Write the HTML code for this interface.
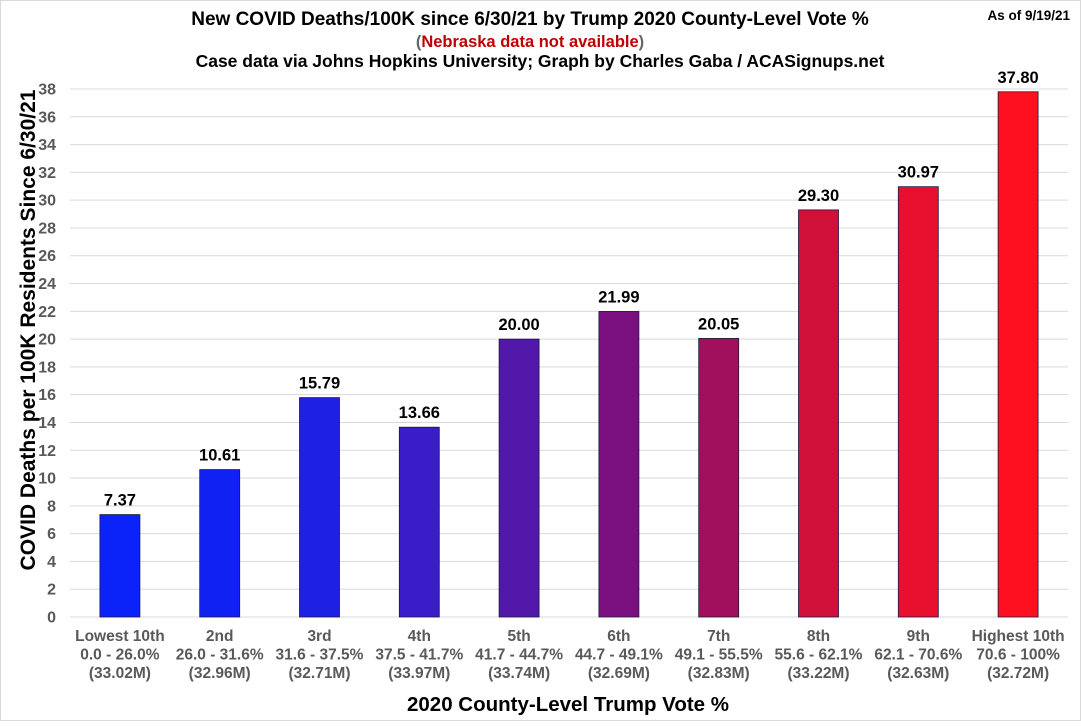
<!DOCTYPE html>
<html><head><meta charset="utf-8"><style>
body{margin:0;background:#fff;width:1081px;height:721px;overflow:hidden;font-family:"Liberation Sans",Arial,sans-serif}
</style></head><body>
<svg id="chart" width="1081" height="721" xmlns="http://www.w3.org/2000/svg" font-family="Liberation Sans, Arial, sans-serif">
<rect x="0.5" y="0.5" width="1080" height="720" fill="#fff" stroke="#d9d9d9"/>
<text x="530" y="25" text-anchor="middle" font-size="19" font-weight="bold">New COVID Deaths/100K since 6/30/21 by Trump 2020 County-Level Vote %</text>
<text x="530" y="47" text-anchor="middle" font-size="16.5" font-weight="bold"><tspan fill="#666">(</tspan><tspan fill="#c00000">Nebraska data not available</tspan><tspan fill="#666">)</tspan></text>
<text x="540" y="67" text-anchor="middle" font-size="17.5" font-weight="bold">Case data via Johns Hopkins University; Graph by Charles Gaba / ACASignups.net</text>
<text x="1070" y="20" text-anchor="end" font-size="13.5" font-weight="bold">As of 9/19/21</text>
<text transform="translate(35,330) rotate(-90)" text-anchor="middle" font-size="21" font-weight="bold">COVID Deaths per 100K Residents Since 6/30/21</text>
<text x="568" y="711" text-anchor="middle" font-size="20.5" font-weight="bold">2020 County-Level Trump Vote %</text>
<g id="grid"></g><g id="bars"></g><g id="labels"></g>
</svg>
<script>
const categories=["Lowest 10th","2nd","3rd","4th","5th","6th","7th","8th","9th","Highest 10th"];
const ranges=["0.0 - 26.0%","26.0 - 31.6%","31.6 - 37.5%","37.5 - 41.7%","41.7 - 44.7%","44.7 - 49.1%","49.1 - 55.5%","55.6 - 62.1%","62.1 - 70.6%","70.6 - 100%"];
const pops=["(33.02M)","(32.96M)","(32.71M)","(33.97M)","(33.74M)","(32.69M)","(32.83M)","(33.22M)","(32.63M)","(32.72M)"];
const values=[7.37,10.61,15.79,13.66,20.00,21.99,20.05,29.30,30.97,37.80];
const colors=["#0b22f8","#1022f2","#1d22e2","#3a1cc8","#5218aa","#7a1080","#a0105c","#cf1038","#e8102e","#ff1020"];
const yTicks=[0,2,4,6,8,10,12,14,16,18,20,22,24,26,28,30,32,34,36,38];
const NS="http://www.w3.org/2000/svg";
const x0=70,x1=1068,y0=617,yTop=89,yMax=38;
const step=(x1-x0)/categories.length;
const yS=v=>y0-(y0-yTop)*v/yMax;
const xC=i=>x0+step*(i+0.5);
function mk(t,a,p){const e=document.createElementNS(NS,t);for(const k in a)e.setAttribute(k,a[k]);p.appendChild(e);return e;}
const grid=document.getElementById('grid'),bars=document.getElementById('bars'),labels=document.getElementById('labels');
yTicks.forEach(v=>{
 const l=mk('line',{x1:x0,x2:x1,y1:yS(v),y2:yS(v),stroke:'#d9d9d9','stroke-width':1},grid);
 
 
 const t=mk('text',{x:56,y:yS(v)+5.5,'text-anchor':'end','font-size':16,'font-weight':'bold',fill:'#595959'},grid);
 t.textContent=v;
 
 
});
values.forEach((v,i)=>{
 const w=40;
 const r=mk('rect',{x:xC(i)-w/2,y:yS(v),width:w,height:y0-yS(v),fill:colors[i],stroke:'#1a1a40','stroke-width':0.8},bars);
 
 
 const t=mk('text',{x:xC(i),y:yS(v)-9,'text-anchor':'middle','font-size':16.5,'font-weight':'bold'},labels);
 t.textContent=v.toFixed(2);
 
 
 [categories[i],ranges[i],pops[i]].forEach((s,j)=>{
  const c=mk('text',{x:xC(i),y:641+j*18.5,'text-anchor':'middle','font-size':15.5,'font-weight':'bold',fill:'#595959'},labels);
  c.textContent=s;
  
  
 });
});
</script>
</body></html>
